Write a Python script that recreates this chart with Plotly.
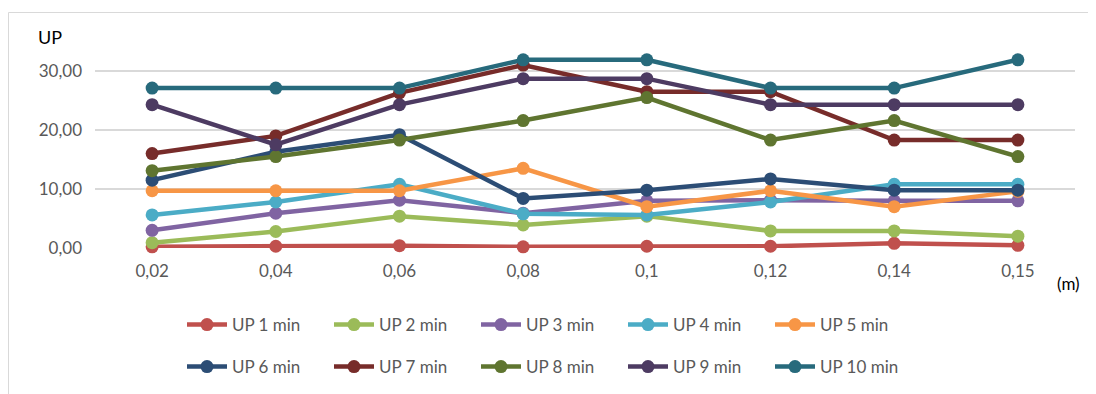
import plotly.graph_objects as go

categories = ["0,02", "0,04", "0,06", "0,08", "0,1", "0,12", "0,14", "0,15"]
series_names = ["UP 1 min", "UP 2 min", "UP 3 min", "UP 4 min", "UP 5 min",
                "UP 6 min", "UP 7 min", "UP 8 min", "UP 9 min", "UP 10 min"]
up1 = [0.2, 0.3, 0.4, 0.2, 0.3, 0.3, 0.8, 0.45]
up2 = [0.9, 2.8, 5.4, 3.9, 5.4, 2.9, 2.9, 2.0]
up3 = [3.0, 5.9, 8.1, 5.9, 8.0, 8.1, 8.0, 8.0]
up4 = [5.6, 7.8, 10.8, 5.8, 5.6, 7.8, 10.8, 10.8]
up5 = [9.7, 9.7, 9.7, 13.5, 7.0, 9.7, 7.0, 9.6]
up6 = [11.5, 16.3, 19.2, 8.4, 9.8, 11.7, 9.8, 9.8]
up7 = [16.0, 19.0, 26.3, 31.0, 26.5, 26.5, 18.3, 18.3]
up8 = [13.1, 15.5, 18.3, 21.6, 25.5, 18.3, 21.6, 15.5]
up9 = [24.3, 17.5, 24.3, 28.7, 28.7, 24.3, 24.3, 24.3]
up10 = [27.1, 27.1, 27.1, 31.9, 31.9, 27.1, 27.1, 31.9]
all_series = [up1, up2, up3, up4, up5, up6, up7, up8, up9, up10]
colors = ["#C0504D", "#9BBB59", "#8064A2", "#4BACC6", "#F79646",
          "#2C4D75", "#772C2A", "#5F7530", "#4D3B62", "#276A7C"]

FONT = "Lato, 'Open Sans', sans-serif"

# page body margin offset (figure is drawn at 8,8 in the page)
OFF = 8
W, H = 1096, 394
# plot area in page pixels
PL, PR, PT, PB = 95, 1075, 40, 248
L, T = PL - OFF, PT - OFF
R, B = W - (PR - OFF), H - (PB - OFF)
pw, ph = PR - PL, PB - PT

def px_x(p):
    return (p - PL) / pw

def px_y(p):
    return (PB - p) / ph

fig = go.Figure()
for i, (name, vals, col) in enumerate(zip(series_names, all_series, colors)):
    fig.add_trace(go.Scatter(
        x=categories, y=vals, name=name, mode="lines+markers",
        line=dict(color=col, width=4.5),
        marker=dict(color=col, size=13),
        cliponaxis=False,
        legend="legend" if i < 5 else "legend2",
    ))

legend_common = dict(
    orientation="h", xanchor="left", yanchor="middle",
    xref="container", yref="container",
    font=dict(family=FONT, size=17, color="#595959"),
    entrywidth=92, entrywidthmode="pixels", bgcolor="rgba(0,0,0,0)",
    itemwidth=40, tracegroupgap=0,
)

fig.update_layout(
    width=W, height=H,
    margin=dict(l=L, r=R, t=T, b=B, autoexpand=False),
    paper_bgcolor="white", plot_bgcolor="white",
    separators=",.",
    showlegend=True,
    legend=dict(x=(180 - OFF + 2) / W, y=1 - (325 - OFF) / H, **legend_common),
    legend2=dict(x=(180 - OFF + 2) / W, y=1 - (367 - OFF) / H, **legend_common),
    xaxis=dict(
        type="category", showgrid=False, zeroline=False, showline=False,
        ticks="", tickfont=dict(family=FONT, size=17, color="#595959"),
        ticklabelstandoff=11,
    ),
    yaxis=dict(
        range=[0, (PB - PT) / 5.9], tickvals=[0, 10, 20, 30], tickformat=".2f",
        showgrid=True, gridcolor="#d9d9d9", gridwidth=1.5, zeroline=False,
        showline=False, ticks="",
        tickfont=dict(family=FONT, size=17, color="#595959"),
        ticklabelstandoff=12,
    ),
    annotations=[
        dict(text="UP", xref="paper", yref="paper", x=px_x(50), y=px_y(37),
             showarrow=False, font=dict(family=FONT, size=18, color="#000000"),
             xanchor="center", yanchor="middle"),
        dict(text="(m)", xref="paper", yref="paper", x=px_x(1068), y=px_y(283),
             showarrow=False, font=dict(family=FONT, size=17, color="#000000"),
             xanchor="center", yanchor="middle"),
    ],
    shapes=[
        dict(type="rect", xref="paper", yref="paper",
             x0=px_x(8.5), x1=px_x(1110), y0=px_y(410), y1=px_y(12.5),
             line=dict(color="#d9d9d9", width=1), fillcolor="rgba(0,0,0,0)",
             layer="below"),
    ],
)

fig.write_html("out.html")
